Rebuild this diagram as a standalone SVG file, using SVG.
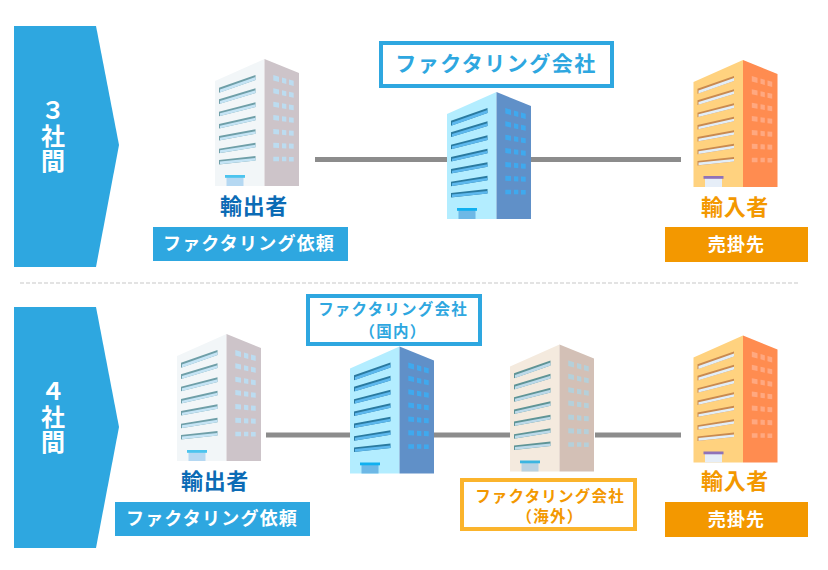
<svg xmlns="http://www.w3.org/2000/svg" width="828" height="570" viewBox="0 0 828 570">
<style>
text{font-family:"Noto Sans CJK JP","Noto Sans",sans-serif;font-weight:700;text-anchor:middle}
.chev{fill:#2ea7e0}
.side{fill:#fff;font-size:24px}
.role{font-size:22px;letter-spacing:.6px}
.navy{fill:#0b6bb5}.org{fill:#f39800}
.tagb{fill:#2ea7e0}.tago{fill:#f39800}
.tagt{fill:#fff;font-size:18px;letter-spacing:1.2px}
.box{fill:#fff;stroke-width:4}
.bb{stroke:#2ea7e0}.bo{stroke:#fbb42c}
.tb{fill:#2ea7e0}.to{fill:#f39800}
.big{font-size:21px;letter-spacing:1.5px}
.sm{font-size:15.5px;letter-spacing:1.2px}
.conn{stroke:#8c8c8c;stroke-width:5;fill:none}
.dash{stroke:#c8c8c8;stroke-width:1.2;stroke-dasharray:4 2;fill:none}
.wl{fill:var(--wl)}.wr{fill:var(--wr)}.we{fill:var(--we)}.wi{fill:var(--wi)}.wj{fill:var(--wj)}.dr{fill:var(--dr)}.aw{fill:var(--aw)}
.white{--wl:#f2f6f8;--wr:#cdc4c9;--we:#6f9fa8;--wi:#c5e4f5;--wj:#bcdcf0;--dr:#b5d8f2;--aw:#4cc4ee}
.blue{--wl:#b3edff;--wr:#6090c8;--we:#2a7aa0;--wi:#5db8ee;--wj:#3fa9ee;--dr:#6db8e6;--aw:#10b0f0}
.orange{--wl:#ffd27f;--wr:#ff8c50;--we:#c98a50;--wi:#e2eef8;--wj:#ffa880;--dr:#e6eef8;--aw:#8f72b8}
.beige{--wl:#f4eade;--wr:#d3c0b6;--we:#5f9496;--wi:#bddaea;--wj:#b5d0da;--dr:#b8d2e2;--aw:#3bb5e0}
</style>
<defs>
<g id="bldg">
<polygon class="wl" points="0,22 49.500,0 49.500,127 0,127"/>
<polygon class="wr" points="49.500,0 84,14 84,127 49.500,127"/>
<path class="we" d="M4 28.700L40.500 16V21L4 33.700ZM4 40.300L40.500 29.300V34L4 45ZM4 52.700L40.500 43.300V48L4 57.300ZM4 65L40.500 56.700V61.200L4 69.500ZM4 77L40.500 70.300V74.800L4 81.500ZM4 89.700L40.500 83.700V88.200L4 94.200ZM4 101L40.500 97V101.500L4 105.500Z"/>
<path class="wi" d="M5 30.400L40.500 18V21L5 33.400ZM5 42L40.500 31.300V34L5 44.700ZM5 54.300L40.500 45.300V48L5 57ZM5 66.700L40.500 58.700V61.200L5 69.200ZM5 78.700L40.500 72.300V74.800L5 81.200ZM5 91.300L40.500 85.700V88.200L5 93.900ZM5 102.600L40.500 99V101.500L5 105.200Z"/>
<path class="wj" d="M58.300 16L64 17.700V23L58.300 21.500ZM67 18.500L71.300 19.700V25L67 23.800ZM74 20.500L78.700 21.700V27L74 25.800Z
M58.300 29.300L64 30.600V35.600L58.300 34.300ZM67 31.200L71.300 32.200V37.200L67 36.200ZM74 32.800L78.700 33.800V38.800L74 37.800Z
M58.300 42.700L64 43.700V48.700L58.300 47.700ZM67 44.300L71.300 45V50L67 49.300ZM74 45.500L78.700 46.300V51.300L74 50.500Z
M58.300 56L64 56.800V61.800L58.300 61ZM67 57.200L71.300 57.800V62.800L67 62.200ZM74 58.200L78.700 58.800V63.800L74 63.200Z
M58.300 70L64 70.500V75.500L58.300 75ZM67 70.800L71.300 71.200V76.200L67 75.800ZM74 71.400L78.700 71.800V76.800L74 76.400Z
M58.300 83.700L64 84V89L58.300 88.700ZM67 84.200L71.300 84.400V89.400L67 89.200ZM74 84.600L78.700 84.800V89.800L74 89.600Z
M58.300 97.700H64V102.200H58.300ZM67 97.800H71.300V102.300H67ZM74 97.900H78.700V102.400H74Z"/>
<rect class="dr" x="11.500" y="118" width="17" height="9"/>
<rect class="aw" x="10" y="116" width="20" height="2.800"/>
</g>
</defs>
<g id="connectors">
<line class="conn" x1="315" y1="159.500" x2="447" y2="159.500"/>
<line class="conn" x1="531" y1="159.500" x2="681" y2="159.500"/>
<line class="conn" x1="266" y1="435" x2="350" y2="435"/>
<line class="conn" x1="434" y1="435" x2="510" y2="435"/>
<line class="conn" x1="595" y1="435" x2="681" y2="435"/>
</g>
<line class="dash" x1="20" y1="283" x2="800" y2="283"/>
<g id="band-3">
<polygon class="chev" points="14,26 96,26 119,145 96,267 14,267"/>
<text class="side" x="53"><tspan x="53" y="119">３</tspan><tspan x="53" y="145">社</tspan><tspan x="53" y="170">間</tspan></text>
</g>
<g id="band-4">
<polygon class="chev" points="14,307 96,307 119,427 96,548 14,548"/>
<text class="side" x="53"><tspan x="53" y="400">４</tspan><tspan x="53" y="426">社</tspan><tspan x="53" y="451">間</tspan></text>
</g>
<g id="exporter-3">
<use href="#bldg" class="white" x="215" y="59"/>
<text class="role navy" x="254" y="214">輸出者</text>
<rect class="tagb" x="153" y="227" width="195" height="34"/>
<text class="tagt" x="249" y="250">ファクタリング依頼</text>
</g>
<g id="factor-3">
<rect class="box bb" x="381" y="43" width="231" height="43"/>
<text class="tb big" x="496" y="71">ファクタリング会社</text>
<use href="#bldg" class="blue" x="447" y="92"/>
</g>
<g id="importer-3">
<use href="#bldg" class="orange" x="693.500" y="60"/>
<text class="role org" x="735" y="215">輸入者</text>
<rect class="tago" x="665" y="227" width="143" height="35"/>
<text class="tagt" x="736.500" y="251">売掛先</text>
</g>
<g id="exporter-4">
<use href="#bldg" class="white" x="177" y="334"/>
<text class="role navy" x="215" y="489">輸出者</text>
<rect class="tagb" x="115" y="502" width="195" height="34"/>
<text class="tagt" x="212" y="525">ファクタリング依頼</text>
</g>
<g id="factor-domestic">
<rect class="box bb" x="308" y="296" width="172" height="48"/>
<text class="tb sm" x="393" y="315">ファクタリング会社</text>
<text class="tb sm" x="393" y="337">（国内）</text>
<use href="#bldg" class="blue" x="350" y="346.500"/>
</g>
<g id="factor-overseas">
<use href="#bldg" class="beige" x="510" y="344.500"/>
<rect class="box bo" x="462" y="480" width="173" height="49"/>
<text class="to sm" x="550" y="502">ファクタリング会社</text>
<text class="to sm" x="550" y="522">（海外）</text>
</g>
<g id="importer-4">
<use href="#bldg" class="orange" x="693.500" y="335.500"/>
<text class="role org" x="735" y="489">輸入者</text>
<rect class="tago" x="665" y="502" width="143" height="35"/>
<text class="tagt" x="736.500" y="526">売掛先</text>
</g>
</svg>
